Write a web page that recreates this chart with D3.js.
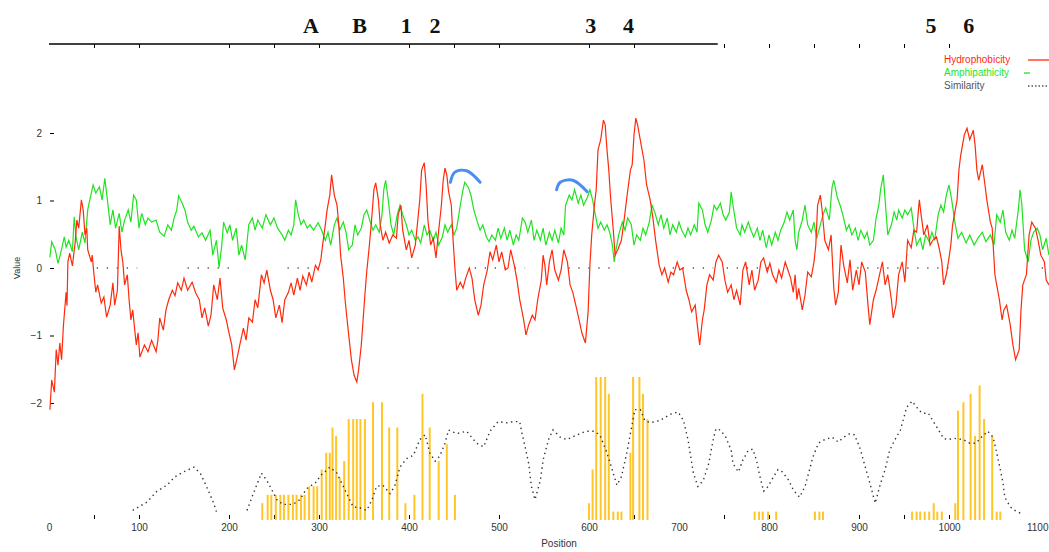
<!DOCTYPE html>
<html>
<head>
<meta charset="utf-8">
<script src="https://d3js.org/d3.v7.min.js"></script>
<style>
body { margin: 0; background: #fff; }
</style>
</head>
<body>
<script>
var w = 1049;
var h = 552;

// hydrophobicity profile (red)
var hydroPos = [1,3,6,8,10,12,14,16,19,20, 21,23,26,29,31,33,36,38,40,42, 43,47,48,50,52,54,58,61,64,68,
  71,73,76,78,80,82,84,87,89,91, 93,97,99,101,106,110,114,119,121,123, 127,130,133,137,140,143,147,150,154,159,
  163,167,170,173,177,180,183,187,190,193, 197,200,203,206,209,212,216,219,222,226, 229,232,236,239,242,246,249,252,256,259,
  262,266,269,272,276,279,282,286,289,292, 296,299,302,304,307,309,312,314,317,320, 322,324,327,329,331,333,336,339,342,344,
  347,349,351,353,356,358,361,363,366,368, 371,374,378,382,386,388,391,393,397,400, 403,407,410,412,414,417,419,421,424,427,
  430,433,436,438,440,442,444,447,449,451, 453,457,460,463,467,470,473,477,480,483, 487,490,493,497,500,503,507,510,513,517,
  520,523,527,530,533,537,540,543,547,549, 551,553,556,559,562,566,569,572,576,579, 582,586,589,592,596,599,601,603,606,608,
  610,613,616,618,620,622,624,627,629,632, 636,639,642,646,648,650,652,654,658,661, 664,668,671,674,678,681,684,688,691,694,
  698,701,704,708,711,714,718,721,723,726, 728,731,734,738,741,744,748,751,754,758, 761,764,768,771,774,778,781,784,788,791,
  794,798,801,804,808,811,814,818,821,824, 827,829,831,833,837,840,843,847,850,852, 854,857,859,862,866,869,872,874,877,880,
  883,887,890,893,897,900,903,907,910,912, 916,919,922,926,929,932,936,938,941,944, 948,951,954,958,961,964,967,969,972,976,
  979,982,986,989,992,994,997,1000,1002,1004, 1007,1009,1011,1013,1017,1020,1023,1027,1029,1031, 1033,1037,1040,1042,1046,1048,1051,1053,1056,1059,
  1061,1064,1068,1071,1074,1078,1080,1082,1086,1089, 1092,1096,1099,1102,1106,1108,1111];
var hydroVal = [-2.10,-1.66,-1.84,-1.21,-1.44,-1.11,-1.36,-0.86,-0.36,-0.56, 0.09,0.22,0.03,0.37,0.71,0.59,1.01,0.86,0.49,0.59,
  0.27,0.09,0.19,-0.10,-0.36,-0.25,-0.52,-0.43,-0.73,-0.55, -0.22,-0.55,-0.33,0.62,0.27,0.09,-0.25,-0.10,-0.47,-0.77,
  -0.62,-1.14,-0.96,-1.32,-1.14,-1.24,-1.07,-1.24,-1.07,-0.74, -0.92,-0.62,-0.47,-0.33,-0.41,-0.22,-0.33,-0.15,-0.33,-0.21,
  -0.37,-0.47,-0.74,-0.59,-0.86,-0.70,-0.25,-0.47,-0.15,-0.59, -0.77,-0.96,-1.14,-1.51,-1.33,-1.14,-0.89,-1.07,-0.74,-0.80,
  -0.47,-0.59,-0.10,-0.22,-0.03,-0.33,-0.47,-0.74,-0.55,-0.81, -0.47,-0.36,-0.22,-0.40,-0.15,-0.33,-0.12,-0.25,-0.06,-0.21,
  0.04,-0.03,0.12,0.34,0.64,0.86,1.08,1.38,1.08,0.93, 0.64,0.19,-0.15,-0.47,-0.74,-0.99,-1.36,-1.59,-1.69,-1.51,
  -1.14,-0.77,-0.40,-0.06,0.34,0.64,1.16,1.26,1.01,0.64, 0.41,0.53,0.37,0.49,0.44,0.79,0.93,0.56,0.27,0.41,
  0.15,0.34,0.74,1.01,1.45,1.56,1.23,0.71,0.34,0.44, 0.15,0.56,0.93,1.30,1.48,1.38,1.13,0.93,0.41,0.00,
  -0.33,-0.21,-0.30,-0.15,0.00,-0.15,-0.47,-0.70,-0.55,-0.25, -0.03,0.24,0.12,0.34,0.09,0.24,-0.03,0.00,0.27,0.04,
  -0.18,-0.47,-0.74,-0.99,-0.84,-0.70,-0.77,-0.47,-0.18,0.19, 0.04,-0.25,0.09,0.27,-0.03,-0.18,-0.03,0.27,0.09,-0.25,
  -0.36,-0.59,-0.77,-0.96,-1.11,-0.65,0.04,0.49,0.93,1.16, 1.75,1.90,2.19,2.12,1.75,1.45,1.04,0.56,0.19,0.27,
  0.41,0.71,1.04,1.45,1.53,1.97,2.22,2.12,1.82,1.60, 1.23,1.01,0.74,0.41,0.04,-0.10,0.00,-0.21,-0.06,-0.10,
  0.09,-0.03,0.00,-0.33,-0.47,-0.65,-0.55,-0.92,-1.14,-0.77, -0.62,-0.25,-0.10,-0.18,0.09,0.19,0.09,-0.18,-0.36,-0.25,
  -0.47,-0.33,-0.55,-0.03,0.09,-0.25,-0.03,-0.33,-0.18,0.09, 0.15,-0.06,0.07,-0.10,-0.21,-0.03,-0.15,0.09,-0.03,-0.15,
  -0.36,-0.10,-0.47,-0.30,-0.62,-0.40,-0.06,-0.13,0.09,0.34, 0.93,1.08,0.86,0.41,0.27,0.49,-0.30,-0.55,-0.36,0.34,
  0.04,-0.22,0.12,-0.33,-0.03,-0.25,0.09,-0.06,-0.55,-0.84, -0.47,-0.33,-0.15,0.09,-0.25,-0.10,-0.47,-0.74,-0.55,-0.10,
  0.09,-0.21,0.41,0.30,0.56,0.53,1.01,0.79,0.49,0.64, 0.34,0.41,0.46,0.30,0.09,-0.25,-0.10,0.15,0.34,0.64,
  0.86,1.01,1.45,1.67,1.97,2.07,1.90,2.04,1.82,1.45, 1.30,1.53,1.23,1.01,0.68,0.59,-0.10,-0.25,-0.47,-0.77,
  -0.62,-0.55,-0.84,-1.14,-1.36,-1.21,-0.62,-0.25,-0.10,0.49, 0.68,0.59,0.41,0.19,0.09,-0.18,-0.25];

// amphipathicity profile (green)
var amphiPos = [1,3,7,10,13,17,19,22,26,28, 30,33,37,40,43,46,49,52,56,59, 62,64,68,71,74,78,81,84,88,91,
  94,97,100,103,107,110,114,119,123,128, 132,136,139,142,144,148,151,154,158,161, 166,170,174,179,182,186,189,192,194,198,
  201,204,208,211,214,218,222,226,229,232, 237,241,246,250,254,259,262,266,269,272, 274,277,280,283,287,290,294,299,303,307,
  310,313,317,320,323,327,330,333,337,340, 343,347,350,353,357,360,363,367,370,372, 374,377,380,383,387,390,393,397,400,403,
  407,410,413,417,420,423,427,430,433,437, 440,443,447,450,453,457,460,462,466,469, 472,476,479,482,486,489,492,496,499,502,
  506,509,512,516,519,522,526,529,532,536, 539,542,546,549,552,556,559,562,566,569, 572,574,578,581,584,588,591,594,598,601,
  604,607,610,613,617,620,623,626,628,630, 633,637,640,643,647,650,653,657,660,663, 667,670,673,677,680,683,687,690,693,697,
  700,703,707,710,713,717,720,722,726,729, 732,736,739,742,746,749,752,756,758,760, 764,768,770,773,777,780,783,787,790,793,
  797,800,803,807,810,813,817,820,823,827, 829,831,833,837,840,843,847,850,853,857, 860,863,867,870,872,876,879,882,886,889,
  892,896,899,902,906,909,912,916,919,922, 924,927,929,932,936,939,942,944,948,951, 954,958,961,964,968,971,974,978,981,984,
  988,991,994,997,1000,1003,1007,1010,1014,1019, 1023,1028,1032,1037,1041,1046,1050,1053,1057,1060,
  1063,1067,1070,1073,1077,1079,1081,1084,1088,1091, 1094,1098,1101,1104,1108,1111];
var amphiVal = [0.16,0.39,0.27,0.07,0.22,0.46,0.31,0.41,0.24,0.76, 0.46,0.27,0.53,0.37,0.86,1.05,1.23,1.11,1.20,1.01,
  1.33,1.11,0.64,0.86,0.59,0.81,0.53,0.71,0.86,0.68, 1.08,1.01,0.59,0.81,0.64,0.74,0.68,0.71,0.53,0.47,
  0.64,0.56,0.74,0.86,1.07,0.96,0.86,0.68,0.56,0.62, 0.46,0.52,0.41,0.56,0.19,0.41,0.01,0.34,0.68,0.52,
  0.64,0.41,0.59,0.19,0.34,0.12,0.64,0.74,0.56,0.71, 0.59,0.79,0.64,0.74,0.59,0.49,0.41,0.56,0.49,0.64,
  1.01,0.79,0.64,0.71,0.59,0.64,0.56,0.67,0.56,0.41, 0.53,0.34,0.64,0.74,0.56,0.68,0.53,0.27,0.34,0.64,
  0.49,0.59,0.79,0.86,0.68,0.56,0.64,0.53,0.79,1.16, 1.30,1.01,0.64,0.49,0.79,0.93,0.79,0.64,0.49,0.56,
  0.41,0.46,0.37,0.64,0.49,0.56,0.41,0.53,0.34,0.46, 0.64,0.53,0.64,0.49,0.59,0.93,1.16,1.27,1.19,1.07,
  0.86,0.68,0.56,0.64,0.46,0.39,0.49,0.41,0.59,0.44, 0.59,0.41,0.56,0.34,0.49,0.41,0.74,0.68,0.53,0.71,
  0.41,0.56,0.41,0.59,0.34,0.53,0.41,0.56,0.37,0.59, 0.49,0.93,1.08,1.01,1.16,0.96,1.08,0.93,1.04,1.16,
  1.01,0.79,0.59,0.68,0.56,0.64,0.53,0.34,0.09,0.27, 0.49,0.68,0.56,0.74,0.64,0.34,0.49,0.41,0.59,0.49,
  0.68,0.93,0.83,0.64,0.79,0.59,0.74,0.49,0.64,0.53, 0.68,0.56,0.46,0.59,0.49,0.64,0.53,0.96,0.86,0.64,
  0.53,0.71,0.93,0.86,0.96,0.79,0.71,0.83,1.13,0.93, 0.59,0.49,0.64,0.53,0.68,0.56,0.46,0.59,0.41,0.56,
  0.30,0.49,0.34,0.53,0.41,0.56,0.68,0.83,0.71,0.86, 0.41,0.27,0.53,0.71,0.93,0.64,0.53,0.68,0.44,0.64,
  0.79,0.89,0.71,1.19,1.30,1.04,0.93,0.79,0.56,0.64, 0.49,0.59,0.41,0.56,0.44,0.53,0.34,0.41,0.74,0.93,
  1.16,1.38,1.01,0.49,0.64,0.83,0.71,0.86,0.74,0.86, 0.79,0.89,0.59,0.34,0.44,0.27,0.49,0.39,0.53,0.41,
  0.79,0.93,0.83,1.08,1.23,1.01,0.64,0.44,0.53,0.37, 0.49,0.34,0.44,0.53,0.39,0.49,0.34,0.79,0.68,0.86,
  0.53,0.41,0.56,0.44,0.86,1.16,0.93,0.27,0.09,0.41, 0.53,0.59,0.49,0.27,0.44,0.19];

// similarity (dotted, lower panel, in %), null = gap
var simPos = [93,109,120,131,140,149,161,168,175,183, 186,203,220,227,236,242,247,253,260,271,
  279,286,296,303,312,320,327,334,338,346, 353,359,364,371,379,384,390,397,405,412,
  418,423,429,434,440,444,453,464,475,483, 490,499,509,516,523,525,529,533,536,540,
  546,549,555,560,568,575,590,597,605,612, 619,625,631,636,642,646,651,657,662,668,
  679,690,699,705,710,716,721,727,733,738, 741,746,752,758,760,766,771,777,782,786,
  790,794,799,805,810,815,822,827,834,840, 844,849,855,862,870,877,883,890,895,901,
  907,912,918,923,929,934,940,946,949,953, 959,964,970,977,986,994,999,1006,1016,1023,
  1030,1036,1043,1049,1053,1057,1060,1062,1068,1075, 1082];
var simVal = [8,15,24,29,36,40,44,39,28,14, 7,null,8,22,39,33,26,17,13,13,
  17,26,31,38,44,39,28,17,11,10, 8,17,28,29,22,28,44,51,54,67,
  71,56,49,53,64,75,72,74,64,61, 74,82,81,82,82,74,61,47,28,17,
  33,50,67,75,69,67,72,74,74,71, 58,44,29,36,56,72,92,92,83,81,
  83,88,90,83,67,39,28,33,47,67, 76,75,69,58,47,40,50,58,59,50,
  36,24,28,36,42,40,33,25,19,28, 39,53,64,67,69,65,69,72,71,60,
  44,31,14,28,42,58,67,75,83,94, 99,94,89,89,78,68,67,68,67,64,
  64,69,74,69,56,42,31,19,11,7, 5];

// yellow bars (counts)
var barPos = [237,243,247,252,257,261,266,271,275,280, 284,289,294,298,303,308,312,315,319,323,
  328,333,338,342,346,351,360,370,378,387, 396,406,415,423,433,442,451,
  600,604,608,613,618,622,627,632,636,646,649,656,660,665,
  784,789,793,799,808,851,856,860,
  959,964,968,973,978,983,987,992,1007,1010,1016,1024,1029,1034,1039,1048,1053,1057];
var barCount = [2,3,3,3,3,3,3,3,3,3, 3,4,4,4,6,8,8,11,10,5,
  7,12,12,12,12,12,14,14,11,11, 2,3,15,11,7,9,3,
  2,6,17,17,17,15,1,1,1,8,17,17,15,12,
  1,1,1,1,1,1,1,1,
  1,1,1,1,1,2,1,1,2,13,14,15,10,16,12,10,1,1];

var markPos = [291, 345, 397, 429, 602, 644, 980, 1022];
var markLabels = ["A", "B", "1", "2", "3", "4", "5", "6"];
var axisTicks = [50,100,200,250,300,400,450,500,600,650,750,800,850,900,950,1000];
var axisLabels = [0,100,200,300,400,500,600,700,800,900,1000,1100];
var valueTicks = [-2, -1, 0, 1, 2];
var topRuleEnd = 743;
var zeroSegments = [[53,98],[154,209],[265,309],[376,418],[473,529],[577,629],[693,738],[753,804],[898,1009],[1103,1111]];
var arcPos = [[446,451,464,479],[564,568,582,598]];
var arcVal = [[1.27,1.42,1.44,1.27],[1.16,1.27,1.30,1.13]];
var legendLabels = ["Hydrophobicity", "Amphipathicity", "Similarity"];
var legendColors = ["#ff2a0c", "#1fe31f", "#555555"];

var x = d3.scaleLinear().domain([0, 1100]).range([49, 1039]);
var y = d3.scaleLinear().domain([-2, 2]).range([403, 133]);
var ySim = d3.scaleLinear().domain([0, 100]).range([520, 400]);
var yBar = d3.scaleLinear().domain([0, 17]).range([520, 377]);

var svg = d3.select("body")
.append("svg")
.attr("width", w)
.attr("height", h)
.style("font-family", "'Liberation Sans', Arial, sans-serif");

svg.append("rect").attr("width", w).attr("height", h).attr("fill", "#fff");

// top rule with ticks and site letters
var topAxis = svg.append("g")
.attr("transform", "translate(0,44)")
.call(d3.axisBottom(x).tickValues(axisTicks).tickSize(4).tickFormat(""));
topAxis.select(".domain").remove();

svg.append("line")
.attr("x1", x(0))
.attr("x2", x(topRuleEnd))
.attr("y1", 44)
.attr("y2", 44)
.attr("stroke", "#000")
.attr("stroke-width", 1.6);

svg.selectAll("text.mark")
.data(markLabels)
.enter()
.append("text")
.attr("class", "mark")
.text(function(d) { return d; })
.attr("x", function(d, i) { return x(markPos[i]); })
.attr("y", 33)
.attr("text-anchor", "middle")
.attr("font-family", "'Liberation Serif', 'DejaVu Serif', serif")
.attr("font-weight", "bold")
.attr("font-size", "22px")
.attr("fill", "#111");

// value axis
var yAxis = svg.append("g")
.attr("transform", "translate(54,0)")
.call(d3.axisLeft(y).tickValues(valueTicks).tickSize(4).tickPadding(8).tickFormat(d3.format("d")));
yAxis.select(".domain").remove();
yAxis.selectAll("text").attr("font-size", "10px").attr("fill", "#333");

svg.append("text")
.text("Value")
.attr("transform", "translate(20,268) rotate(-90)")
.attr("text-anchor", "middle")
.attr("font-size", "9px")
.attr("fill", "#333");

// bottom ticks and labels
var bTicks = svg.append("g")
.attr("transform", "translate(0,515)")
.call(d3.axisBottom(x).tickValues(axisTicks).tickSize(4).tickFormat(""));
bTicks.select(".domain").remove();

var bLabels = svg.append("g")
.attr("transform", "translate(0,522)")
.call(d3.axisBottom(x).tickValues(axisLabels).tickSize(0).tickPadding(2).tickFormat(d3.format("d")));
bLabels.select(".domain").remove();
bLabels.selectAll("text").attr("font-size", "10px").attr("fill", "#333");
// last label sits against the right edge
bLabels.selectAll("text")
.filter(function(d) { return d === 1100; })
.attr("text-anchor", "end")
.attr("x", 9);

svg.append("text")
.text("Position")
.attr("x", 559)
.attr("y", 547)
.attr("text-anchor", "middle")
.attr("font-size", "10px")
.attr("fill", "#333");

// yellow bars
svg.selectAll("rect.bar")
.data(barCount)
.enter()
.append("rect")
.attr("class", "bar")
.attr("x", function(d, i) { return x(barPos[i]) - 1; })
.attr("y", function(d) { return yBar(d); })
.attr("width", 2)
.attr("height", function(d) { return yBar(0) - yBar(d); })
.attr("fill", "#ffc629");

// similarity curve
var simLine = d3.line()
.defined(function(d) { return d !== null; })
.x(function(d, i) { return x(simPos[i]); })
.y(function(d) { return ySim(d); });

svg.append("path")
.datum(simVal)
.attr("d", simLine)
.attr("fill", "none")
.attr("stroke", "#333")
.attr("stroke-width", 1.4)
.attr("stroke-dasharray", "1.4,3.6");

// dotted zero line
svg.selectAll("line.zero")
.data(zeroSegments)
.enter()
.append("line")
.attr("class", "zero")
.attr("x1", function(d) { return x(d[0]); })
.attr("x2", function(d) { return x(d[1]); })
.attr("y1", y(0))
.attr("y2", y(0))
.attr("stroke", "#555")
.attr("stroke-width", 1.3)
.attr("stroke-dasharray", "1.3,8.7");

// amphipathicity and hydrophobicity
var amphiLine = d3.line()
.x(function(d, i) { return x(amphiPos[i]); })
.y(function(d) { return y(d); });

svg.append("path")
.datum(amphiVal)
.attr("d", amphiLine)
.attr("fill", "none")
.attr("stroke", legendColors[1])
.attr("stroke-width", 1.2);

var hydroLine = d3.line()
.x(function(d, i) { return x(hydroPos[i]); })
.y(function(d) { return y(d); });

svg.append("path")
.datum(hydroVal)
.attr("d", hydroLine)
.attr("fill", "none")
.attr("stroke", legendColors[0])
.attr("stroke-width", 1.2);

// blue hand-drawn arcs
var arcLine = d3.line()
.curve(d3.curveCatmullRom)
.x(function(d) { return x(d[0]); })
.y(function(d) { return y(d[1]); });

svg.selectAll("path.arc")
.data(arcPos)
.enter()
.append("path")
.attr("class", "arc")
.attr("d", function(d, k) {
  return arcLine(d.map(function(p, i) { return [p, arcVal[k][i]]; }));
})
.attr("fill", "none")
.attr("stroke", "#4a8ef0")
.attr("stroke-width", 3)
.attr("stroke-linecap", "round");

// legend
svg.selectAll("text.legend")
.data(legendLabels)
.enter()
.append("text")
.attr("class", "legend")
.text(function(d) { return d; })
.attr("x", 944)
.attr("y", function(d, i) { return 63 + i * 13; })
.attr("font-size", "10px")
.attr("fill", function(d, i) { return legendColors[i]; });

svg.selectAll("line.legend")
.data(legendLabels)
.enter()
.append("line")
.attr("class", "legend")
.attr("x1", function(d, i) { return i === 1 ? 1024 : 1028; })
.attr("x2", function(d, i) { return i === 1 ? 1030 : 1049; })
.attr("y1", function(d, i) { return 60 + i * 13; })
.attr("y2", function(d, i) { return 60 + i * 13; })
.attr("stroke", function(d, i) { return legendColors[i]; })
.attr("stroke-width", 1.3)
.attr("stroke-dasharray", function(d, i) { return i === 2 ? "1.5,2" : null; });
</script>
</body>
</html>
